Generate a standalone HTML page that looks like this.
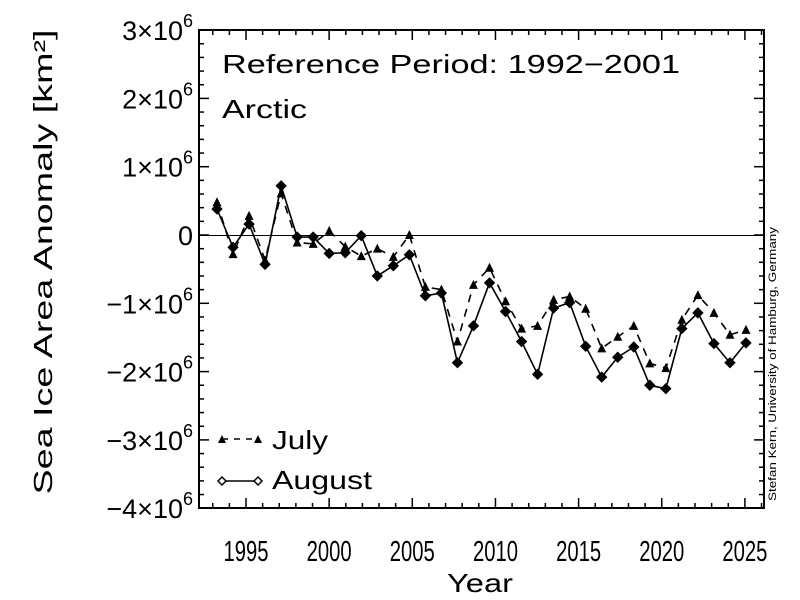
<!DOCTYPE html>
<html><head><meta charset="utf-8"><style>
body{margin:0;background:#fff}
svg{display:block;font-family:"Liberation Sans",sans-serif}
</style></head><body>
<svg id="c" width="800" height="600" viewBox="0 0 800 600">
<rect width="800" height="600" fill="#fff"/>
<g id="axes"></g>
<g id="series"></g>
<text x="222" y="73" font-size="26" textLength="458" lengthAdjust="spacingAndGlyphs">Reference Period: 1992−2001</text>
<text x="222" y="118" font-size="26" textLength="85" lengthAdjust="spacingAndGlyphs">Arctic</text>
<text transform="translate(52,262) rotate(-90)" text-anchor="middle" font-size="26" textLength="465" lengthAdjust="spacingAndGlyphs">Sea Ice Area Anomaly [km²]</text>
<text x="480" y="592" text-anchor="middle" font-size="26" textLength="66" lengthAdjust="spacingAndGlyphs">Year</text>
<text transform="translate(776,364) rotate(-90)" text-anchor="middle" font-size="11" textLength="274" lengthAdjust="spacingAndGlyphs">Stefan Kern, University of Hamburg, Germany</text>
<g>
<line x1="222" y1="439" x2="258" y2="439" stroke="#000" stroke-width="1.5" stroke-dasharray="6,6"/>
<polygon points="218,443 226,443 222,435" fill="#000"/>
<polygon points="254,443 262,443 258,435" fill="#000"/>
<text x="272" y="449" font-size="26" textLength="56" lengthAdjust="spacingAndGlyphs">July</text>
<line x1="222" y1="481" x2="258" y2="481" stroke="#000" stroke-width="1.5"/>
<polygon points="218,481 222,477 226,481 222,485" fill="#fff" stroke="#000" stroke-width="1.5"/>
<polygon points="254,481 258,477 262,481 258,485" fill="#fff" stroke="#000" stroke-width="1.5"/>
<text x="272" y="489" font-size="26" textLength="100" lengthAdjust="spacingAndGlyphs">August</text>
</g>
</svg>
<script>
const years = [1993,1994,1995,1996,1997,1998,1999,2000,2001,2002,2003,2004,2005,2006,2007,2008,2009,2010,2011,2012,2013,2014,2015,2016,2017,2018,2019,2020,2021,2022,2023,2024,2025,2026];
const julyValues = [0.48,-0.28,0.28,-0.37,0.61,-0.11,-0.13,0.06,-0.17,-0.31,-0.20,-0.32,0.00,-0.76,-0.80,-1.56,-0.73,-0.48,-0.97,-1.37,-1.33,-0.95,-0.90,-1.08,-1.66,-1.49,-1.33,-1.88,-1.95,-1.24,-0.88,-1.14,-1.46,-1.39];
const augustValues = [0.38,-0.18,0.16,-0.43,0.72,-0.03,-0.03,-0.27,-0.26,-0.01,-0.60,-0.45,-0.29,-0.89,-0.85,-1.87,-1.33,-0.70,-1.12,-1.56,-2.04,-1.07,-0.99,-1.63,-2.08,-1.79,-1.64,-2.20,-2.25,-1.37,-1.14,-1.59,-1.87,-1.58];
const xTickLabels = [1995,2000,2005,2010,2015,2020,2025];
const yTickLabels = [3,2,1,0,-1,-2,-3,-4];

const NS="http://www.w3.org/2000/svg";
const L=199,R=764,T=30,B=508;
function x(yr){return 217+(yr-1993)*16.03;}
function xt(v){return 246+(v-1995)*16.63;}
function y(v){return 235-v*68.3;}
function mk(tag,attrs,parent){const e=document.createElementNS(NS,tag);for(const k in attrs)e.setAttribute(k,attrs[k]);parent.appendChild(e);return e;}
const axes=document.getElementById('axes'), ser=document.getElementById('series');

const frame=mk('rect',{x:L,y:T,width:R-L,height:B-T,fill:'none',stroke:'#000','stroke-width':2},axes);


const zl=mk('line',{x1:L,x2:R,y1:y(0)+0.5,y2:y(0)+0.5,stroke:'#000','stroke-width':1},axes);



for(let v=1992;v<=2026;v++){
  const px=xt(v); if(px<L+1||px>R-1)continue;
  const len=(v%5===0)?10:5;
  mk('line',{x1:px,x2:px,y1:B,y2:B-len,stroke:'#000','stroke-width':1.5},axes);
  mk('line',{x1:px,x2:px,y1:T,y2:T+len,stroke:'#000','stroke-width':1.5},axes);
}
xTickLabels.forEach(v=>{
  const t=mk('text',{x:xt(v),y:561,'text-anchor':'middle','font-size':29,textLength:45,lengthAdjust:'spacingAndGlyphs'},axes);
  t.textContent=v;
  
  
});
for(let i=0;i<=35;i++){
  const v=3-i*0.2; const py=y(v);
  const major=Math.abs(v-Math.round(v))<1e-6;
  const len=major?10:5;
  mk('line',{x1:L,x2:L+len,y1:py,y2:py,stroke:'#000','stroke-width':1.5},axes);
  mk('line',{x1:R,x2:R-len,y1:py,y2:py,stroke:'#000','stroke-width':1.5},axes);
}
yTickLabels.forEach(v=>{
  const t=mk('text',{x:193,y:y(v)+10,'text-anchor':'end','font-size':27},axes);
  
  
  if(v===0){t.textContent='0';}
  else{
    const a=document.createElementNS(NS,'tspan');a.textContent=(v<0?'−':'')+Math.abs(v)+'×10';t.appendChild(a);
    const b=document.createElementNS(NS,'tspan');b.setAttribute('dy','-13');b.setAttribute('font-size','18');b.textContent='6';t.appendChild(b);
  }
});

function drawSeries(vals,name,dash,marker){
  const pts=years.map((yr,i)=>x(yr)+','+y(vals[i])).join(' ');
  const pl=mk('polyline',{points:pts,fill:'none',stroke:'#000','stroke-width':1.6},ser);
  if(dash)pl.setAttribute('stroke-dasharray','8,7');
  
  
  years.forEach((yr,i)=>{
    const cx=x(yr),cy=y(vals[i]);let m;
    if(marker==='tri') m=mk('polygon',{points:`${cx-4.5},${cy+4} ${cx+4.5},${cy+4} ${cx},${cy-5}`,fill:'#000'},ser);
    else m=mk('polygon',{points:`${cx-5},${cy} ${cx},${cy-5} ${cx+5},${cy} ${cx},${cy+5}`,fill:'#000',stroke:'#000','stroke-width':1},ser);
    
    
  });
}
drawSeries(julyValues,'july',true,'tri');
drawSeries(augustValues,'august',false,'dia');
</script>
</body></html>
